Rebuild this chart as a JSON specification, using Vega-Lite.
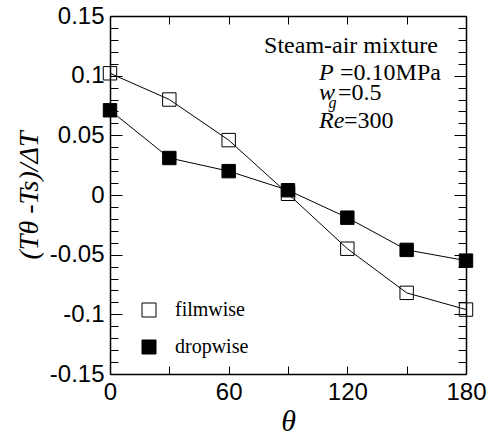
{
  "$schema": "https://vega.github.io/schema/vega-lite/v6.json",
  "width": 356,
  "height": 358,
  "autosize": "none",
  "padding": {"left": 110, "top": 16, "right": 22, "bottom": 63},
  "background": "white",
  "config": {
    "view": {"stroke": null},
    "font": "Liberation Serif",
    "axis": {"grid": false, "domainColor": "black", "tickColor": "black", "labelColor": "black", "titleColor": "black", "domainWidth": 1.5, "tickWidth": 1}
  },
  "datasets": {
    "main": [
      {"theta": 0, "value": 0.102, "series": "filmwise"},
      {"theta": 30, "value": 0.080, "series": "filmwise"},
      {"theta": 60, "value": 0.046, "series": "filmwise"},
      {"theta": 90, "value": 0.001, "series": "filmwise"},
      {"theta": 120, "value": -0.045, "series": "filmwise"},
      {"theta": 150, "value": -0.082, "series": "filmwise"},
      {"theta": 180, "value": -0.096, "series": "filmwise"},
      {"theta": 0, "value": 0.071, "series": "dropwise"},
      {"theta": 30, "value": 0.031, "series": "dropwise"},
      {"theta": 60, "value": 0.020, "series": "dropwise"},
      {"theta": 90, "value": 0.004, "series": "dropwise"},
      {"theta": 120, "value": -0.019, "series": "dropwise"},
      {"theta": 150, "value": -0.046, "series": "dropwise"},
      {"theta": 180, "value": -0.055, "series": "dropwise"}
    ]
  },
  "layer": [
    {
      "data": {"name": "main"},
      "mark": {"type": "line", "color": "black", "strokeWidth": 1},
      "encoding": {
        "x": {"field": "theta", "type": "quantitative", "scale": {"domain": [0, 180], "nice": false, "zero": false},
          "axis": {"orient": "bottom", "values": [0, 30, 60, 90, 120, 150, 180], "tickSize": -8, "labels": false, "domain": true, "title": null}},
        "y": {"field": "value", "type": "quantitative", "scale": {"domain": [-0.15, 0.15], "nice": false, "zero": false},
          "axis": {"orient": "left", "values": [-0.15, -0.14, -0.13, -0.12, -0.11, -0.1, -0.09, -0.08, -0.07, -0.06, -0.05, -0.04, -0.03, -0.02, -0.01, 0, 0.01, 0.02, 0.03, 0.04, 0.05, 0.06, 0.07, 0.08, 0.09, 0.1, 0.11, 0.12, 0.13, 0.14, 0.15],
            "tickSize": {"condition": {"test": "abs(round(datum.value*100))%5==0", "value": -12}, "value": -8}, "labels": false, "domain": true, "title": null}},
        "detail": {"field": "series"}
      }
    },
    {
      "data": {"name": "main"},
      "mark": {"type": "point", "shape": "square", "size": 180, "filled": true, "stroke": "black", "strokeWidth": 1, "opacity": 1},
      "encoding": {
        "x": {"field": "theta", "type": "quantitative", "scale": {"domain": [0, 180], "nice": false, "zero": false},
          "axis": {"orient": "bottom", "values": [0, 60, 120, 180], "ticks": false, "domain": false, "labelFlush": false, "labelFont": "Liberation Sans", "labelFontSize": 24, "labelPadding": 6,
            "title": "θ", "titleFont": "Liberation Serif", "titleFontStyle": "italic", "titleFontWeight": "normal", "titleFontSize": 30, "titlePadding": 2}},
        "y": {"field": "value", "type": "quantitative", "scale": {"domain": [-0.15, 0.15], "nice": false, "zero": false},
          "axis": {"orient": "left", "values": [-0.15, -0.1, -0.05, 0, 0.05, 0.1, 0.15], "ticks": false, "domain": false, "labelFont": "Liberation Sans", "labelFontSize": 24, "labelPadding": 6,
            "labelExpr": "datum.value == 0 ? '0' : (datum.value < 0 ? '-' : '') + format(abs(datum.value), '~g')",
            "title": "(Tθ -Ts)/ΔT", "titleFont": "Liberation Serif", "titleFontStyle": "italic", "titleFontWeight": "normal", "titleFontSize": 28, "titlePadding": 6}},
        "fill": {"field": "series", "type": "nominal", "scale": {"domain": ["filmwise", "dropwise"], "range": ["transparent", "black"]},
          "legend": {"orient": "none", "legendX": 29, "legendY": 284, "title": null, "padding": 0, "symbolType": "square", "symbolSize": 196, "symbolStrokeColor": "black", "symbolStrokeWidth": 1, "labelFont": "Liberation Serif", "labelFontSize": 20, "labelColor": "black", "labelOffset": 16, "rowPadding": 17}}
      }
    },
    {
      "data": {"values": [{"label": "Steam-air mixture"}]},
      "mark": {"type": "text", "align": "left", "baseline": "alphabetic", "fontSize": 24, "font": "Liberation Serif", "color": "black"},
      "encoding": {
        "x": {"datum": 77.9, "type": "quantitative", "scale": {"domain": [0, 180], "nice": false, "zero": false},
          "axis": {"orient": "top", "values": [0, 30, 60, 90, 120, 150, 180], "tickSize": -8, "labels": false, "domain": true, "title": null}},
        "y": {"datum": 0.119, "type": "quantitative", "scale": {"domain": [-0.15, 0.15], "nice": false, "zero": false},
          "axis": {"orient": "right", "values": [-0.15, -0.14, -0.13, -0.12, -0.11, -0.1, -0.09, -0.08, -0.07, -0.06, -0.05, -0.04, -0.03, -0.02, -0.01, 0, 0.01, 0.02, 0.03, 0.04, 0.05, 0.06, 0.07, 0.08, 0.09, 0.1, 0.11, 0.12, 0.13, 0.14, 0.15],
            "tickSize": {"condition": {"test": "abs(round(datum.value*100))%5==0", "value": -12}, "value": -8}, "labels": false, "domain": true, "title": null}},
        "text": {"field": "label"}
      }
    },
    {
      "data": {"values": [{"label": "P"}]},
      "mark": {"type": "text", "align": "left", "baseline": "alphabetic", "fontSize": 24, "font": "Liberation Serif", "fontStyle": "italic", "color": "black"},
      "encoding": {
        "x": {"datum": 105.7, "type": "quantitative", "axis": null},
        "y": {"datum": 0.0964, "type": "quantitative", "axis": null},
        "text": {"field": "label"}
      }
    },
    {
      "data": {"values": [{"label": "=0.10MPa"}]},
      "mark": {"type": "text", "align": "left", "baseline": "alphabetic", "fontSize": 24, "font": "Liberation Serif", "color": "black"},
      "encoding": {
        "x": {"datum": 116.3, "type": "quantitative", "axis": null},
        "y": {"datum": 0.0964, "type": "quantitative", "axis": null},
        "text": {"field": "label"}
      }
    },
    {
      "data": {"values": [{"label": "w"}]},
      "mark": {"type": "text", "align": "left", "baseline": "alphabetic", "fontSize": 24, "font": "Liberation Serif", "fontStyle": "italic", "color": "black"},
      "encoding": {
        "x": {"datum": 105.7, "type": "quantitative", "axis": null},
        "y": {"datum": 0.0796, "type": "quantitative", "axis": null},
        "text": {"field": "label"}
      }
    },
    {
      "data": {"values": [{"label": "g"}]},
      "mark": {"type": "text", "align": "left", "baseline": "alphabetic", "fontSize": 16, "font": "Liberation Serif", "fontStyle": "italic", "color": "black"},
      "encoding": {
        "x": {"datum": 110.5, "type": "quantitative", "axis": null},
        "y": {"datum": 0.0725, "type": "quantitative", "axis": null},
        "text": {"field": "label"}
      }
    },
    {
      "data": {"values": [{"label": "=0.5"}]},
      "mark": {"type": "text", "align": "left", "baseline": "alphabetic", "fontSize": 24, "font": "Liberation Serif", "color": "black"},
      "encoding": {
        "x": {"datum": 115.3, "type": "quantitative", "axis": null},
        "y": {"datum": 0.0796, "type": "quantitative", "axis": null},
        "text": {"field": "label"}
      }
    },
    {
      "data": {"values": [{"label": "Re"}]},
      "mark": {"type": "text", "align": "left", "baseline": "alphabetic", "fontSize": 24, "font": "Liberation Serif", "fontStyle": "italic", "color": "black"},
      "encoding": {
        "x": {"datum": 105.7, "type": "quantitative", "axis": null},
        "y": {"datum": 0.0561, "type": "quantitative", "axis": null},
        "text": {"field": "label"}
      }
    },
    {
      "data": {"values": [{"label": "=300"}]},
      "mark": {"type": "text", "align": "left", "baseline": "alphabetic", "fontSize": 24, "font": "Liberation Serif", "color": "black"},
      "encoding": {
        "x": {"datum": 118.3, "type": "quantitative", "axis": null},
        "y": {"datum": 0.0561, "type": "quantitative", "axis": null},
        "text": {"field": "label"}
      }
    }
  ],
  "resolve": {"axis": {"x": "independent", "y": "independent"}}
}
